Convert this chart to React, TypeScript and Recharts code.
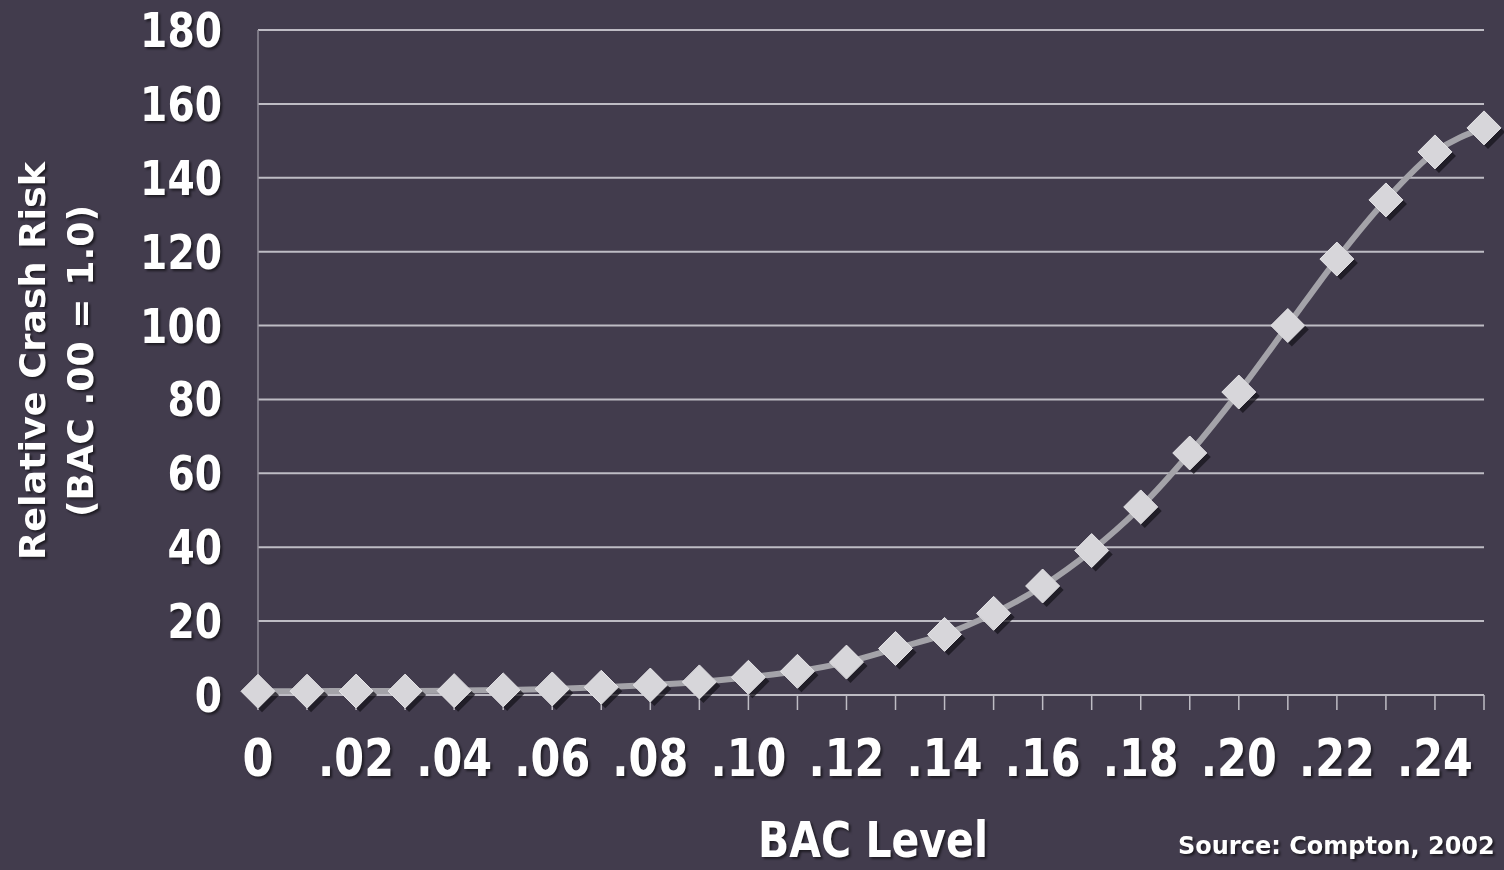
import React from 'react';
import { LineChart, Line, XAxis, YAxis, CartesianGrid, Label } from 'recharts';

const bacLevels: string[] = ['0', '.01', '.02', '.03', '.04', '.05', '.06', '.07', '.08', '.09', '.10', '.11', '.12', '.13', '.14', '.15', '.16', '.17', '.18', '.19', '.20', '.21', '.22', '.23', '.24', '.25'];
const relativeRisk: number[] = [1, 1.03, 1.06, 1.06, 1.18, 1.38, 1.63, 2.09, 2.69, 3.54, 4.79, 6.41, 8.9, 12.6, 16.4, 22.1, 29.5, 39.1, 50.9, 65.5, 82, 100, 118, 134, 147, 153.5];
const yTicks: number[] = [0, 20, 40, 60, 80, 100, 120, 140, 160, 180];
const shownXLabels: string[] = ['0', '.02', '.04', '.06', '.08', '.10', '.12', '.14', '.16', '.18', '.20', '.22', '.24'];

const data = bacLevels.map((b, i) => ({ bac: b, risk: relativeRisk[i] }));

const FONT = '"DejaVu Sans", Verdana, sans-serif';
const shadow = { filter: 'drop-shadow(2px 2px 1px rgba(0,0,0,0.55))' };

const YTick = (props: any) => {
  const { x, y, payload } = props;
  const s = String(payload.value);
  return (
    <text x={x} y={y} dy={17} textAnchor="end" fill="#ffffff" fontFamily={FONT} fontWeight="bold" fontSize={48}
      textLength={s.length * 27.3} lengthAdjust="spacingAndGlyphs" style={shadow}>
      {s}
    </text>
  );
};

const XTick = (props: any) => {
  const { x, y, payload } = props;
  const s = String(payload.value);
  if (!shownXLabels.includes(s)) return <g />;
  const len = s.length === 1 ? 31 : 16 + 2 * 30;
  return (
    <text x={x} y={y} dy={66} textAnchor="middle" fill="#ffffff" fontFamily={FONT} fontWeight="bold" fontSize={52}
      textLength={len} lengthAdjust="spacingAndGlyphs" style={shadow}>
      {s}
    </text>
  );
};

const Diamond = (props: any) => {
  const { cx, cy, index } = props;
  if (cx == null || cy == null) return <g key={`d${index}`} />;
  const r = 17;
  const pts = (dx: number, dy: number) =>
    `${cx + dx},${cy + dy - r} ${cx + dx + r},${cy + dy} ${cx + dx},${cy + dy + r} ${cx + dx - r},${cy + dy}`;
  return (
    <g key={`d${index}`}>
      <polygon points={pts(4, 4)} fill="#17141c" fillOpacity={0.75} />
      <polygon points={pts(0, 0)} fill="#d7d6da" stroke="#e6e5e8" strokeWidth={1} />
    </g>
  );
};

const YTitle = () => (
  <g style={shadow}>
    <text x={45} y={361} transform="rotate(-90, 45, 361)" textAnchor="middle" fill="#ffffff" fontFamily={FONT}
      fontWeight="bold" fontSize={36} textLength={398} lengthAdjust="spacingAndGlyphs">
      Relative Crash Risk
    </text>
    <text x={93} y={361} transform="rotate(-90, 93, 361)" textAnchor="middle" fill="#ffffff" fontFamily={FONT}
      fontWeight="bold" fontSize={36} textLength={312} lengthAdjust="spacingAndGlyphs">
      (BAC .00 = 1.0)
    </text>
  </g>
);

const XTitle = () => (
  <g style={shadow}>
    <text x={873} y={857} textAnchor="middle" fill="#ffffff" fontFamily={FONT} fontWeight="bold" fontSize={50}
      textLength={230} lengthAdjust="spacingAndGlyphs">
      BAC Level
    </text>
    <text x={1178} y={854} textAnchor="start" fill="#ffffff" fontFamily={FONT} fontWeight="bold" fontSize={24}>
      Source: Compton, 2002
    </text>
  </g>
);

export default function App() {
  return (
    <div style={{ position: 'absolute', left: 0, top: 0, width: 1504, height: 870, background: '#423c4d', overflow: 'hidden' }}>
      <LineChart width={1504} height={870} data={data} margin={{ top: 30, right: 20, bottom: 0, left: 0 }}>
        <CartesianGrid horizontal={true} vertical={false} stroke="#bebcc4" strokeWidth={2} />
        <XAxis dataKey="bac" interval={0} height={175} tickSize={15} tickMargin={0}
          axisLine={{ stroke: '#bebcc4', strokeWidth: 2 }} tickLine={{ stroke: '#bebcc4', strokeWidth: 1.5 }} tick={<XTick />}>
          <Label content={<XTitle />} />
        </XAxis>
        <YAxis domain={[0, 180]} ticks={yTicks} width={258} tickSize={0} tickMargin={36}
          axisLine={{ stroke: '#8f8b97', strokeWidth: 1.5 }} tickLine={false} tick={<YTick />}>
          <Label content={<YTitle />} />
        </YAxis>
        <Line dataKey="risk" type="monotone" stroke="#a4a3a9" strokeWidth={6} isAnimationActive={false}
          dot={(p: any) => <Diamond {...p} />} activeDot={false} />
      </LineChart>
    </div>
  );
}
